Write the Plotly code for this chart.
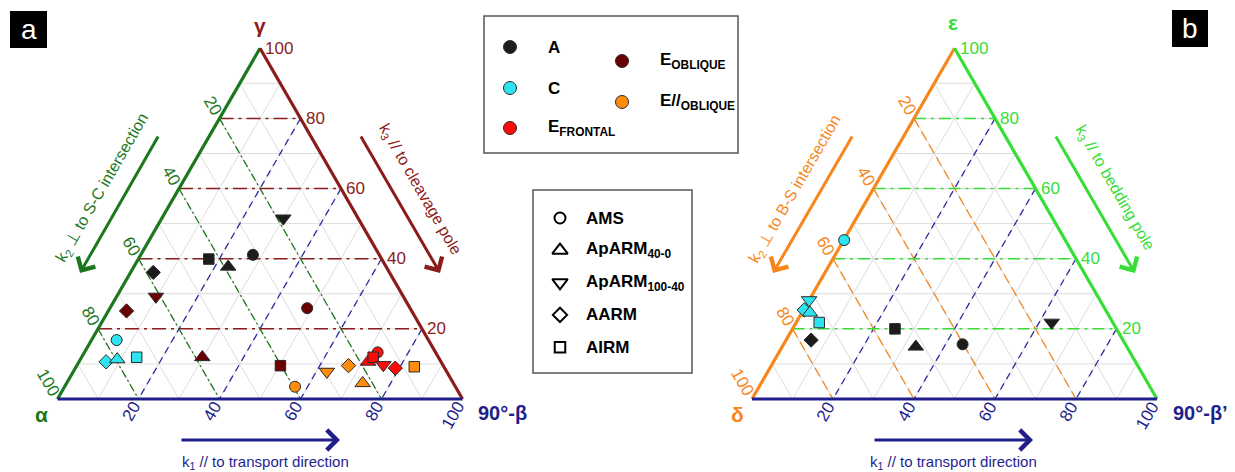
import math
import plotly.graph_objects as go

W, H = 1235, 472
S3 = math.sqrt(3) / 2

# ---------------- data ----------------
# Panel a: alpha (k2), 90°-beta (k1), gamma (k3), in percent
a_site = ["A", "A", "A", "A", "A",
          "C", "C", "C", "C",
          "E_OBLIQUE", "E_OBLIQUE", "E_OBLIQUE", "E_OBLIQUE", "E_OBLIQUE",
          "E_PAR", "E_PAR", "E_PAR", "E_PAR", "E_PAR",
          "E_FRONTAL", "E_FRONTAL", "E_FRONTAL", "E_FRONTAL", "E_FRONTAL"]
a_method = ["ApARM100-40", "AIRM", "ApARM40-0", "AMS", "AARM",
            "AMS", "AARM", "ApARM40-0", "AIRM",
            "ApARM100-40", "AARM", "AMS", "ApARM40-0", "AIRM",
            "AMS", "ApARM100-40", "AARM", "ApARM40-0", "AIRM",
            "ApARM40-0", "AMS", "AIRM", "ApARM100-40", "AARM"]
a_alpha = [18.5, 42.7, 39.0, 31.2, 58.3,
           77.0, 82.7, 79.6, 74.5,
           61.1, 70.4, 25.4, 58.3, 40.2,
           39.6, 29.6, 23.4, 22.4, 7.3,
           18.0, 14.3, 16.1, 14.7, 12.2]
a_beta90 = [30.0, 17.4, 23.3, 27.7, 5.6,
            6.2, 6.7, 9.1, 13.6,
            9.7, 4.5, 48.7, 29.8, 50.3,
            56.9, 62.6, 67.1, 73.1, 83.5,
            71.4, 72.4, 72.0, 75.6, 79.0]
a_gamma = [51.5, 39.9, 37.7, 41.1, 36.1,
           16.8, 10.6, 11.3, 11.9,
           29.2, 25.1, 25.9, 11.9, 9.5,
           3.5, 7.8, 9.5, 4.5, 9.2,
           10.6, 13.3, 11.9, 9.7, 8.8]

# Panel b: delta (k2), 90°-beta' (k1), epsilon (k3), in percent
b_site = ["C", "C", "C", "C", "C",
          "A", "A", "A", "A", "A"]
b_method = ["AMS", "ApARM100-40", "AARM", "ApARM40-0", "AIRM",
            "AARM", "AIRM", "ApARM40-0", "AMS", "ApARM100-40"]
b_delta = [54.6, 71.8, 74.4, 73.4, 72.5,
           77.0, 54.7, 52.1, 40.2, 15.1]
b_beta90 = [0.1, 0.0, 0.2, 2.0, 5.7,
            6.2, 25.3, 33.0, 44.2, 63.1]
b_epsilon = [45.3, 28.2, 25.4, 24.6, 21.8,
             16.8, 20.0, 14.9, 15.6, 21.8]

site_order = ["A", "C", "E_FRONTAL", "E_OBLIQUE", "E_PAR"]
site_labels = ["A", "C", "E<sub>FRONTAL</sub>", "E<sub>OBLIQUE</sub>", "E//<sub>OBLIQUE</sub>"]
method_order = ["AMS", "ApARM40-0", "ApARM100-40", "AARM", "AIRM"]
method_labels = ["AMS", "ApARM<sub>40-0</sub>", "ApARM<sub>100-40</sub>", "AARM", "AIRM"]
tick_values = [20, 40, 60, 80, 100]

# ---------------- styles ----------------
SITE_COLOR = {"A": "#1c1c1c", "C": "#2ee3f0", "E_FRONTAL": "#ff0a0a",
              "E_OBLIQUE": "#6b0000", "E_PAR": "#ff8c0a"}
SYMBOL = {"AMS": "circle", "ApARM40-0": "triangle-up", "ApARM100-40": "triangle-down",
          "AARM": "diamond", "AIRM": "square"}
SYMBOL_SIZE = {"AMS": 11, "ApARM40-0": 13.5, "ApARM100-40": 13.5, "AARM": 11, "AIRM": 10.5}
DRAW_ORDER = ["A", "C", "E_OBLIQUE", "E_PAR", "E_FRONTAL"]

NAVY = "#1f1f8c"
BLUE_DASH = "#2c2ca6"
DKGREEN = "#1d771d"
DKRED = "#8c1c1c"
ORANGE = "#f7861c"
LTGREEN = "#36de36"
GRID = "#dcdcdc"

TXT_FONT = "Liberation Sans, Arial, sans-serif"
LEG_FONT = "Liberation Sans, Arial, sans-serif"


def tern_xy(left, right, top):
    s = left + right + top
    return (right + 0.5 * top) / s, S3 * top / s


fig = go.Figure()


def add_polyline(segments, xaxis, color, width, dash="solid"):
    xs, ys = [], []
    for seg in segments:
        for p in seg:
            x, y = tern_xy(*p)
            xs.append(x)
            ys.append(y)
        xs.append(None)
        ys.append(None)
    fig.add_trace(go.Scatter(x=xs, y=ys, xaxis=xaxis, yaxis="y", mode="lines",
                             line=dict(color=color, width=width, dash=dash),
                             hoverinfo="skip", showlegend=False))


def draw_panel(xaxis, left_col, top_col, lefts, rights, tops, sites, methods,
               left_dash, top_dash):
    # light grid every 10 %
    grid = []
    for v in range(10, 100, 10):
        grid.append([(100 - v, 0, v), (0, 100 - v, v)])
        grid.append([(v, 0, 100 - v), (v, 100 - v, 0)])
        grid.append([(0, v, 100 - v), (100 - v, v, 0)])
    add_polyline(grid, xaxis, GRID, 1)
    # reference lines every 20 %
    main = [20, 40, 60, 80]
    add_polyline([[(0, v, 100 - v), (100 - v, v, 0)] for v in main], xaxis,
                 BLUE_DASH, 1.3, "7px,5px")
    add_polyline([[(v, 0, 100 - v), (v, 100 - v, 0)] for v in main], xaxis,
                 left_col, 1.3, left_dash)
    add_polyline([[(100 - v, 0, v), (0, 100 - v, v)] for v in main], xaxis,
                 top_col, 1.5, top_dash)
    # triangle edges
    add_polyline([[(100, 0, 0), (0, 0, 100)]], xaxis, left_col, 3.2)
    add_polyline([[(0, 100, 0), (0, 0, 100)]], xaxis, top_col, 3.2)
    add_polyline([[(100, 0, 0), (0, 100, 0)]], xaxis, NAVY, 3.2)
    # samples
    for site in DRAW_ORDER:
        idx = [i for i, s in enumerate(sites) if s == site]
        if not idx:
            continue
        xy = [tern_xy(lefts[i], rights[i], tops[i]) for i in idx]
        fig.add_trace(go.Scatter(
            x=[p[0] for p in xy], y=[p[1] for p in xy], xaxis=xaxis, yaxis="y",
            mode="markers", cliponaxis=False, showlegend=False,
            marker=dict(size=[SYMBOL_SIZE[methods[i]] for i in idx],
                        color=SITE_COLOR[site], opacity=1,
                        symbol=[SYMBOL[methods[i]] for i in idx],
                        line=dict(color="#2a2a2a", width=1))))


draw_panel("x", DKGREEN, DKRED, a_alpha, a_beta90, a_gamma, a_site, a_method,
           "8px,3px,2px,3px", "14px,5px,3px,5px")
draw_panel("x2", ORANGE, LTGREEN, b_delta, b_beta90, b_epsilon, b_site, b_method,
           "10px,5px", "12px,5px,3px,5px")

annotations = []


def tick_labels(xref, left_col, top_col):
    for v in tick_values:
        txt = str(v)
        k = 9.4 * len(txt) / 2 + 5
        x, y = tern_xy(0, 100 - v, v)
        annotations.append(dict(x=x, y=y, xref=xref, yref="y", text=txt, showarrow=False,
                                xanchor="left", yanchor="middle", xshift=3,
                                font=dict(family=TXT_FONT, size=17, color=top_col)))
        x, y = tern_xy(v, 0, 100 - v)
        annotations.append(dict(x=x, y=y, xref=xref, yref="y", text=txt, showarrow=False,
                                textangle=60, xanchor="center", yanchor="middle",
                                xshift=-0.5 * k, yshift=0.866 * k,
                                font=dict(family=TXT_FONT, size=17, color=left_col)))
        x, y = tern_xy(100 - v, v, 0)
        annotations.append(dict(x=x, y=y, xref=xref, yref="y", text=txt, showarrow=False,
                                textangle=-60, xanchor="center", yanchor="middle",
                                xshift=-0.5 * k, yshift=-0.866 * k,
                                font=dict(family=TXT_FONT, size=17, color=NAVY)))


tick_labels("x", DKGREEN, DKRED)
tick_labels("x2", ORANGE, LTGREEN)


def label(x, y, text, color, size, bold=False, angle=0, xanchor="center", family=TXT_FONT):
    if bold:
        text = "<b>" + text + "</b>"
    annotations.append(dict(x=x, y=y, xref="x3", yref="y3", text=text, showarrow=False,
                            textangle=angle, xanchor=xanchor, yanchor="middle",
                            font=dict(family=family, size=size, color=color)))


def arrow(x0, y0, x1, y1, color):
    annotations.append(dict(x=x1, y=y1, ax=x0, ay=y0, xref="x3", yref="y3",
                            axref="x3", ayref="y3", text="", showarrow=True,
                            arrowhead=4, arrowsize=1.3, arrowwidth=3,
                            arrowcolor=color, standoff=0))


# vertex names
label(260, 25, "γ", DKRED, 21, bold=True)
label(41, 414, "α", DKGREEN, 21, bold=True)
label(476, 413, "90°-β", NAVY, 20, bold=True, xanchor="left")
label(953, 22, "ε", LTGREEN, 21, bold=True)
label(737, 414, "δ", ORANGE, 21, bold=True)
label(1171, 413, "90°-β’", NAVY, 20, bold=True, xanchor="left")

# direction arrows and captions, panel a
arrow(159, 135, 80, 273, DKGREEN)
label(102, 188, "k<sub>2</sub> ⊥ to S-C intersection", DKGREEN, 16, angle=-60)
arrow(360, 135, 440, 273, DKRED)
label(420, 189, "k<sub>3</sub> // to cleavage pole", DKRED, 16, angle=60)
arrow(180, 440, 340, 440, NAVY)
label(265, 462, "k<sub>1</sub> // to transport direction", NAVY, 15)

# direction arrows and captions, panel b
arrow(853, 135, 773, 273, ORANGE)
label(795, 189, "k<sub>2</sub> ⊥ to B-S intersection", ORANGE, 16, angle=-60)
arrow(1055, 135, 1135, 273, LTGREEN)
label(1115, 188, "k<sub>3</sub> // to bedding pole", LTGREEN, 16, angle=60)
arrow(873, 440, 1033, 440, NAVY)
label(953, 462, "k<sub>1</sub> // to transport direction", NAVY, 15)

# panel letters
shapes = [
    dict(type="rect", xref="x3", yref="y3", x0=10, y0=11, x1=47, y1=48,
         fillcolor="black", line=dict(width=0)),
    dict(type="rect", xref="x3", yref="y3", x0=1172, y0=10, x1=1208, y1=47,
         fillcolor="black", line=dict(width=0)),
    # legend frames
    dict(type="rect", xref="x3", yref="y3", x0=484, y0=16, x1=738, y1=153,
         fillcolor="rgba(0,0,0,0)", line=dict(color="#555555", width=1.5)),
    dict(type="rect", xref="x3", yref="y3", x0=533, y0=190, x1=692, y1=373,
         fillcolor="rgba(0,0,0,0)", line=dict(color="#555555", width=1.5)),
]
label(28.5, 29, "a", "white", 28)
label(1190, 28, "b", "white", 28)

# legend: sites (fill colour)
site_pos = [(510, 47), (510, 88), (510, 128), (622, 61), (622, 102)]
fig.add_trace(go.Scatter(
    x=[p[0] for p in site_pos], y=[p[1] for p in site_pos], xaxis="x3", yaxis="y3",
    mode="markers", showlegend=False, hoverinfo="skip", cliponaxis=False,
    marker=dict(size=13, symbol="circle", opacity=1,
                color=[SITE_COLOR[s] for s in site_order],
                line=dict(color="#2a2a2a", width=1))))
for (px, py), txt in zip(site_pos, site_labels):
    label(px + 36, py, txt, "black", 17, bold=True, xanchor="left", family=LEG_FONT)

# legend: methods (marker shape)
meth_x, meth_y0, meth_dy = 560, 218, 32.3
meth_y = [meth_y0 + i * meth_dy for i in range(len(method_order))]
fig.add_trace(go.Scatter(
    x=[meth_x] * len(method_order), y=meth_y, xaxis="x3", yaxis="y3",
    mode="markers", showlegend=False, hoverinfo="skip", cliponaxis=False,
    marker=dict(size=[SYMBOL_SIZE[m] for m in method_order], opacity=1,
                symbol=[SYMBOL[m] + "-open" for m in method_order],
                color="black", line=dict(color="black", width=2))))
for py, txt in zip(meth_y, method_labels):
    label(meth_x + 24, py, txt, "black", 17, bold=True, xanchor="left", family=LEG_FONT)

# pixel scale: ternary unit = 405 px; triangle a starts at x=57.5, b at x=752; base at y=399
U = 405.0
ax_common = dict(visible=False, showgrid=False, zeroline=False, domain=[0, 1], fixedrange=True)
fig.update_layout(
    width=W, height=H, margin=dict(l=0, r=0, t=0, b=0),
    paper_bgcolor="white", plot_bgcolor="rgba(0,0,0,0)",
    xaxis=dict(range=[-57.5 / U, (W - 57.5) / U], anchor="y", **ax_common),
    xaxis2=dict(range=[-752 / U, (W - 752) / U], anchor="y", overlaying="x", **ax_common),
    yaxis=dict(range=[-(H - 399) / U, 399 / U], anchor="x", **ax_common),
    xaxis3=dict(range=[0, W], anchor="y3", overlaying="x", **ax_common),
    yaxis3=dict(range=[H, 0], anchor="x3", overlaying="y", **ax_common),
    annotations=annotations, shapes=shapes,
)

fig.write_html("out.html")
